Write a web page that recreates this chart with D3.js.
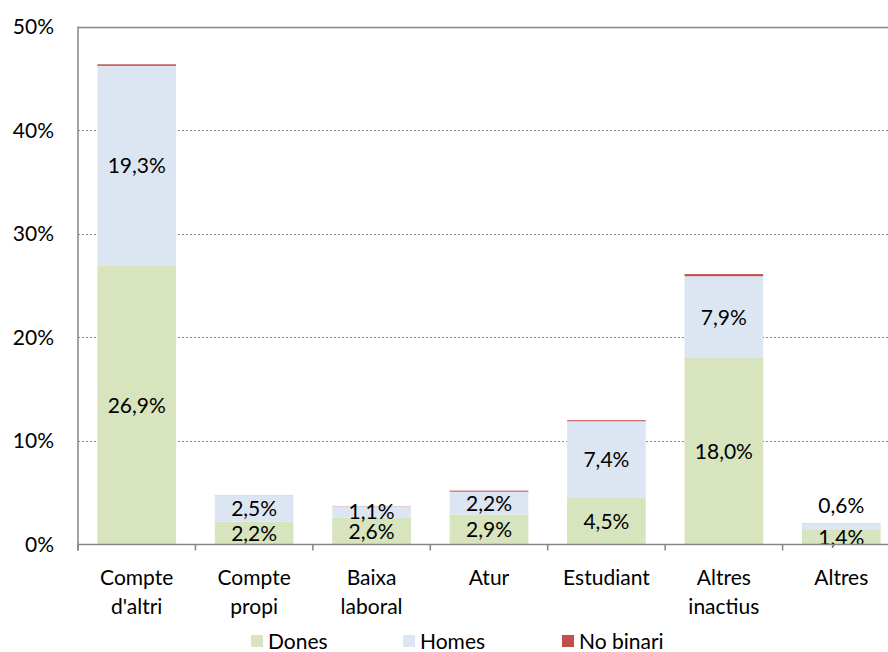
<!DOCTYPE html>
<html>
<head>
<meta charset="utf-8">
<script src="https://cdn.jsdelivr.net/npm/d3@7"></script>
<style>
  body { margin: 0; background: #fff; }
  text { font-family: Lato, "Open Sans", sans-serif; fill: #000; }
</style>
</head>
<body>
<div id="chart"></div>
<script>
// categories and series (percent)
const categories = [["Compte", "d'altri"], ["Compte", "propi"], ["Baixa", "laboral"], ["Atur"], ["Estudiant"], ["Altres", "inactius"], ["Altres"]];
const dones = [26.9, 2.2, 2.6, 2.9, 4.5, 18.0, 1.4];
const homes = [19.3, 2.5, 1.1, 2.2, 7.4, 7.9, 0.6];
const noBinari = [0.15, 0.02, 0.02, 0.1, 0.1, 0.2, 0.02];
const seriesNames = ["Dones", "Homes", "No binari"];
const yTicks = [0, 10, 20, 30, 40, 50];

const width = 888, height = 652;
const colors = ["#d7e4bd", "#dce6f2", "#c0504d"];

const svg = d3.select("#chart").append("svg")
  .attr("width", width).attr("height", height);

const x = d3.scaleBand()
  .domain(d3.range(categories.length))
  .range([78, 900])
  .paddingInner(0.33)
  .paddingOuter(0.165);

const y = d3.scaleLinear().domain([0, 50]).range([544.5, 26.5]);

// gridlines
svg.selectAll("line.grid")
  .data(yTicks.filter(t => t > 0 && t < 50))
  .join("line")
  .attr("x1", 78).attr("x2", width)
  .attr("y1", d => Math.round(y(d)) + 0.5).attr("y2", d => Math.round(y(d)) + 0.5)
  .attr("stroke", "#8c8c8c").attr("stroke-dasharray", "2,2");

// top border
svg.append("line")
  .attr("x1", 78).attr("x2", width)
  .attr("y1", Math.round(y(50)) + 0.5).attr("y2", Math.round(y(50)) + 0.5)
  .attr("stroke", "#868686").attr("stroke-width", 1.5);

// stacked data
const rows = categories.map((c, i) => ({ i, Dones: dones[i], Homes: homes[i], "No binari": noBinari[i] }));
const stack = d3.stack().keys(seriesNames)(rows);

svg.selectAll("g.series")
  .data(stack)
  .join("g")
  .attr("fill", (d, k) => colors[k])
  .selectAll("rect")
  .data(d => d)
  .join("rect")
  .attr("x", d => x(d.data.i))
  .attr("width", x.bandwidth())
  .attr("y", d => y(d[1]))
  .attr("height", d => y(d[0]) - y(d[1]));

// value labels for Dones and Homes
const fmt = v => d3.format(".1f")(v).replace(".", ",") + "%";
stack.slice(0, 2).forEach(s => {
  svg.selectAll(null)
    .data(s)
    .join("text")
    .attr("x", d => x(d.data.i) + x.bandwidth() / 2)
    .attr("y", d => {
      const v = d[1] - d[0];
      if (v < 1) return y(d[1]) - 18;
      return (y(d[0]) + y(d[1])) / 2;
    })
    .attr("dy", "0.36em")
    .attr("text-anchor", "middle")
    .attr("font-size", 21)
    .text(d => fmt(d[1] - d[0]));
});

// axes
const xAxis = svg.append("g").attr("transform", `translate(0,${y(0)})`);
xAxis.append("line")
  .attr("x1", 78).attr("x2", width)
  .attr("stroke", "#868686").attr("stroke-width", 1.5);
xAxis.selectAll("line.tick")
  .data(d3.range(categories.length + 1))
  .join("line")
  .attr("x1", d => 78 + d * x.step()).attr("x2", d => 78 + d * x.step())
  .attr("y1", 0).attr("y2", 6)
  .attr("stroke", "#868686").attr("stroke-width", 1.5);

svg.append("line")
  .attr("x1", 78).attr("x2", 78)
  .attr("y1", y(50)).attr("y2", y(0) + 6)
  .attr("stroke", "#868686").attr("stroke-width", 1.5);

svg.selectAll("text.ytick")
  .data(yTicks)
  .join("text")
  .attr("x", 54)
  .attr("y", d => y(d))
  .attr("dy", "0.36em")
  .attr("text-anchor", "end")
  .attr("font-size", 21)
  .text(d => d + "%");

// category labels
categories.forEach((lines, i) => {
  const t = svg.append("text")
    .attr("text-anchor", "middle")
    .attr("font-size", 21)
    .attr("x", x(i) + x.bandwidth() / 2)
    .attr("y", 585);
  lines.forEach((l, j) => t.append("tspan")
    .attr("x", x(i) + x.bandwidth() / 2)
    .attr("dy", j === 0 ? 0 : 29)
    .text(l));
});

// legend
const legendX = [251, 403, 562];
seriesNames.forEach((name, k) => {
  svg.append("rect")
    .attr("x", legendX[k]).attr("y", 635)
    .attr("width", 12).attr("height", 12)
    .attr("fill", colors[k]);
  svg.append("text")
    .attr("x", legendX[k] + 17).attr("y", 641)
    .attr("dy", "0.36em")
    .attr("font-size", 21)
    .text(name);
});
</script>
</body>
</html>
